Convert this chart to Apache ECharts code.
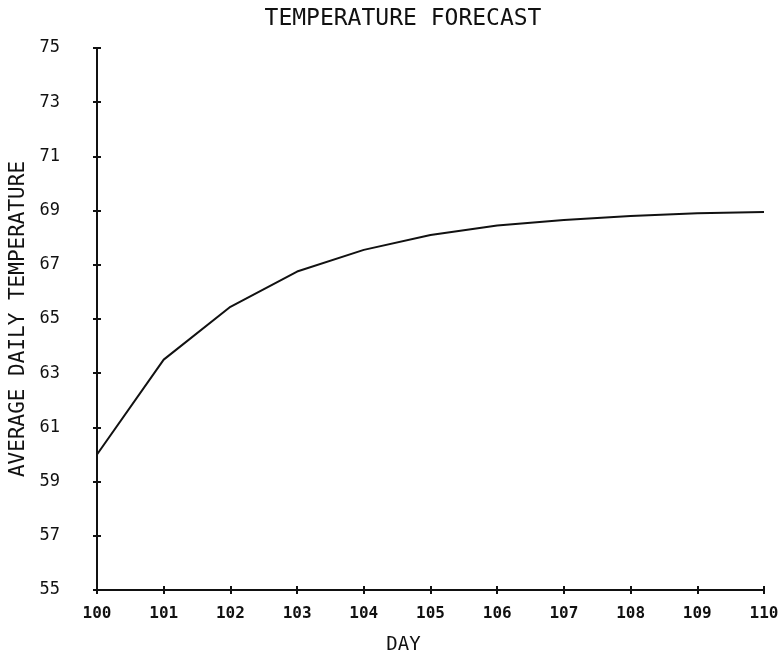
<!DOCTYPE html>
<html>
<head>
<meta charset="utf-8">
<script src="https://cdn.jsdelivr.net/npm/echarts@6/dist/echarts.min.js"></script>
<style>
  html, body { margin: 0; padding: 0; background: #fff; }
  #chart { width: 780px; height: 663px; }
</style>
</head>
<body>
<div id="chart"></div>
<script>
// Forecast days and average daily temperature
const days = [100, 101, 102, 103, 104, 105, 106, 107, 108, 109, 110];
const temps = [60.0, 63.5, 65.45, 66.75, 67.55, 68.1, 68.45, 68.65, 68.8, 68.9, 68.95];
const yTicks = [55, 57, 59, 61, 63, 65, 67, 69, 71, 73, 75];

const FONT = '"DejaVu Sans Mono", monospace';
const INK = '#111';

const chart = echarts.init(document.getElementById('chart'), null, { renderer: 'canvas' });

const baseX = {
  type: 'value', min: 100, max: 110, interval: 1,
  splitLine: { show: false },
  axisLine: { show: true, lineStyle: { color: INK, width: 2 } }
};
const baseY = {
  type: 'value', min: 55, max: 75, interval: 2,
  splitLine: { show: false },
  axisLine: { show: true, lineStyle: { color: INK, width: 2 } }
};

chart.setOption({
  animation: false,
  backgroundColor: '#fff',
  title: {
    text: 'TEMPERATURE FORECAST',
    left: 398, top: 3, textAlign: 'center',
    textStyle: { fontFamily: FONT, fontSize: 23, fontWeight: 'normal', color: INK }
  },
  grid: { left: 97, right: 16, top: 48, bottom: 73, containLabel: false, outerBoundsMode: 'none' },
  xAxis: [
    Object.assign({}, baseX, {
      name: 'DAY', nameLocation: 'middle', nameGap: 46,
      nameTextStyle: { fontFamily: FONT, fontSize: 19, color: INK, padding: [0, 54, 0, 0] },
      axisTick: { show: true, length: 4, lineStyle: { color: INK, width: 2 } },
      axisLabel: {
        margin: 16, fontFamily: FONT, fontSize: 16, fontWeight: 'bold', color: INK,
        formatter: v => String(v)
      }
    }),
    Object.assign({}, baseX, {
      position: 'bottom',
      axisTick: { show: true, inside: true, length: 4, lineStyle: { color: INK, width: 2 } },
      axisLabel: { show: false }
    })
  ],
  yAxis: [
    Object.assign({}, baseY, {
      name: 'AVERAGE DAILY TEMPERATURE', nameLocation: 'middle', nameGap: 68,
      nameRotate: 90,
      nameTextStyle: { fontFamily: FONT, fontSize: 21, color: INK },
      axisTick: { show: true, length: 4, lineStyle: { color: INK, width: 2 } },
      axisLabel: {
        margin: 37, fontFamily: FONT, fontSize: 17, color: INK,
        customValues: yTicks
      }
    }),
    Object.assign({}, baseY, {
      position: 'left',
      axisTick: { show: true, inside: true, length: 4, lineStyle: { color: INK, width: 2 } },
      axisLabel: { show: false }
    })
  ],
  series: [{
    type: 'line',
    data: days.map((d, i) => [d, temps[i]]),
    showSymbol: false,
    smooth: false,
    lineStyle: { color: INK, width: 2 }
  }]
});
</script>
</body>
</html>
